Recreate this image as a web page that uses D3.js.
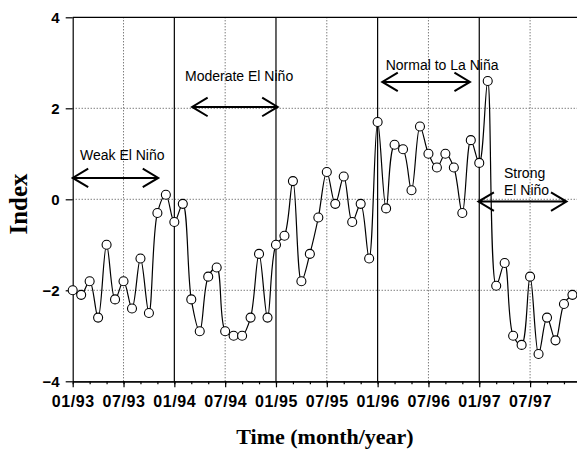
<!DOCTYPE html>
<meta charset="utf-8">
<style>

body {
  margin: 0;
  background: #fff;
}

.axis path, .axis line {
  stroke: #000;
  stroke-width: 1.2;
}

.axis text {
  font-family: "Liberation Sans", Arial, sans-serif;
  font-weight: bold;
  fill: #000;
}

.grid {
  stroke: #444;
  stroke-width: 1;
  stroke-dasharray: 1,2;
}

.era {
  stroke: #000;
  stroke-width: 1.2;
}

.series {
  fill: none;
  stroke: #000;
  stroke-width: 1.2;
}

.dot {
  fill: #fff;
  stroke: #000;
  stroke-width: 1.1;
}

.arrow {
  stroke: #000;
  stroke-width: 2;
  fill: none;
}

.note {
  font-family: "Liberation Sans", Arial, sans-serif;
  font-size: 14px;
  fill: #000;
}

.title {
  font-family: "Liberation Serif", "Times New Roman", serif;
  font-weight: bold;
  fill: #000;
}

</style>
<svg width="577" height="451"></svg>
<script src="https://cdn.jsdelivr.net/npm/d3@7"></script>
<script>

// monthly index, 01/93 .. 12/97 (month 0 = Jan 1993)
var index = [
  -2.0, -2.1, -1.8, -2.6, -1.0, -2.2, -1.8, -2.4, -1.3, -2.5, -0.3, 0.1,
  -0.5, -0.1, -2.2, -2.9, -1.7, -1.5, -2.9, -3.0, -3.0, -2.6, -1.2, -2.6,
  -1.0, -0.8, 0.4, -1.8, -1.2, -0.4, 0.6, -0.1, 0.5, -0.5, -0.1, -1.3,
  1.7, -0.2, 1.2, 1.1, 0.2, 1.6, 1.0, 0.7, 1.0, 0.7, -0.3, 1.3,
  0.8, 2.6, -1.9, -1.4, -3.0, -3.2, -1.7, -3.4, -2.6, -3.1, -2.3, -2.1
];

var tickLabels = ["01/93", "07/93", "01/94", "07/94", "01/95",
                  "07/95", "01/96", "07/96", "01/97", "07/97"];
var yTicks = [-4, -2, 0, 2, 4];
var yGrid = [-2, 0, 2];
var midYear = [6, 18, 30, 42, 54];   // dotted verticals (July)
var newYear = [12, 24, 36, 48];      // solid verticals (January)

// ENSO phase annotations: arrow from/to month at index value, label anchor
var phaseNames = [["Weak El Niño"], ["Moderate El Niño"], ["Normal to La Niña"], ["Strong", "El Niño"]];
var phaseFrom = [0, 14.1, 36.55, 47.9];
var phaseTo = [10.1, 24.2, 46.9, 58.3];
var phaseLevel = [0.47, 2.03, 2.58, -0.05];
var labelMonth = [0.86, 13.26, 36.95, 50.92];
var labelLevel = [0.86, 2.6, 2.84, 0.47];

var svg = d3.select("svg"),
    width = +svg.attr("width"),
    height = +svg.attr("height");

var x = d3.scaleLinear()
    .domain([0, 60])
    .range([72.7, 580.9]);

var y = d3.scaleLinear()
    .domain([-4, 4])
    .range([381.3, 17.3]);

// gridlines
svg.append("g").selectAll("line")
  .data(yGrid)
  .enter().append("line")
    .attr("class", "grid")
    .attr("x1", x(0)).attr("x2", width)
    .attr("y1", y).attr("y2", y);

svg.append("g").selectAll("line")
  .data(midYear)
  .enter().append("line")
    .attr("class", "grid")
    .attr("stroke-dasharray", "1,3")
    .attr("x1", x).attr("x2", x)
    .attr("y1", y(4)).attr("y2", y(-4));

svg.append("g").selectAll("line")
  .data(newYear)
  .enter().append("line")
    .attr("class", "era")
    .attr("x1", x).attr("x2", x)
    .attr("y1", y(4)).attr("y2", y(-4));

// top border
svg.append("line")
    .attr("class", "era")
    .attr("x1", x(0)).attr("x2", width)
    .attr("y1", y(4)).attr("y2", y(4));

// axes
svg.append("g")
    .attr("class", "axis")
    .attr("transform", "translate(0," + y(-4) + ")")
    .call(d3.axisBottom(x)
      .tickValues(d3.range(0, 60, 2))
      .tickSize(3)
      .tickSizeOuter(0)
      .tickFormat(""));

svg.append("g")
    .attr("class", "axis")
    .attr("transform", "translate(0," + y(-4) + ")")
    .call(d3.axisBottom(x)
      .tickValues(d3.range(0, 60, 6))
      .tickSize(6)
      .tickSizeOuter(0)
      .tickPadding(8)
      .tickFormat(function(d) { return tickLabels[d / 6]; }))
  .selectAll("text")
    .style("font-size", "16px")
    .style("letter-spacing", "0.6px");

svg.append("g")
    .attr("class", "axis")
    .attr("transform", "translate(" + x(0) + ",0)")
    .call(d3.axisLeft(y)
      .tickValues(yTicks)
      .tickSize(7)
      .tickSizeOuter(0)
      .tickPadding(6))
  .selectAll("text")
    .style("font-size", "15px");

// series
var line = d3.line()
    .x(function(d, i) { return x(i); })
    .y(function(d) { return y(d); })
    .curve(d3.curveCatmullRom);

svg.append("path")
    .datum(index)
    .attr("class", "series")
    .attr("d", line);

svg.append("g").selectAll("circle")
  .data(index)
  .enter().append("circle")
    .attr("class", "dot")
    .attr("cx", function(d, i) { return x(i); })
    .attr("cy", y)
    .attr("r", 4.5);

// phase arrows
var head = 15.5, spread = 9.3;
phaseNames.forEach(function(names, i) {
  var x0 = x(phaseFrom[i]), x1 = x(phaseTo[i]), yy = y(phaseLevel[i]);
  svg.append("path")
      .attr("class", "arrow")
      .attr("d",
        "M" + x0 + "," + yy + "H" + x1 +
        "M" + (x0 + head) + "," + (yy - spread) + "L" + x0 + "," + yy + "L" + (x0 + head) + "," + (yy + spread) +
        "M" + (x1 - head) + "," + (yy - spread) + "L" + x1 + "," + yy + "L" + (x1 - head) + "," + (yy + spread));

  var t = svg.append("text")
      .attr("class", "note")
      .attr("x", x(labelMonth[i]))
      .attr("y", y(labelLevel[i]));
  names.forEach(function(n, k) {
    t.append("tspan")
        .attr("x", x(labelMonth[i]))
        .attr("dy", k ? "1.25em" : 0)
        .text(n);
  });
});

// axis titles
svg.append("text")
    .attr("class", "title")
    .attr("transform", "translate(27," + 204 + ") rotate(-90)")
    .attr("text-anchor", "middle")
    .style("font-size", "25px")
    .text("Index");

svg.append("text")
    .attr("class", "title")
    .attr("x", 325)
    .attr("y", 444)
    .attr("text-anchor", "middle")
    .style("font-size", "22px")
    .text("Time (month/year)");

</script>
